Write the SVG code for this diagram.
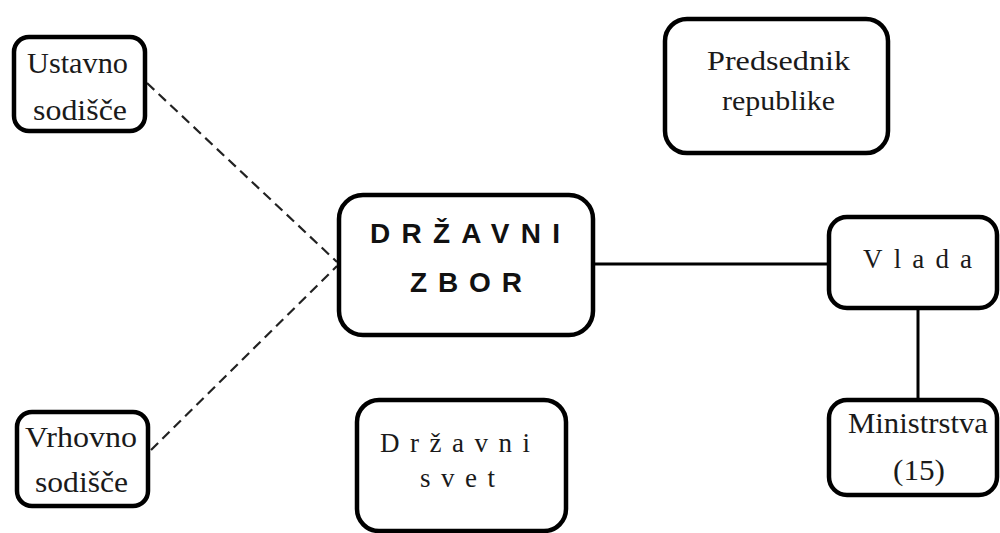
<svg xmlns="http://www.w3.org/2000/svg" width="1000" height="533" viewBox="0 0 1000 533">
  <style>
    .box { fill: #ffffff; stroke: #000000; stroke-width: 4.5; }
    .serif { font-family: "Liberation Serif", "Times New Roman", serif; fill: #1a1a1a; }
    .sans { font-family: "Liberation Sans", Arial, sans-serif; font-weight: bold; fill: #111111; }
    .solid { stroke: #000000; stroke-width: 3; fill: none; }
    .dashed { stroke: #222222; stroke-width: 2.2; stroke-dasharray: 10 6; fill: none; }
  </style>
  <rect width="1000" height="533" fill="#ffffff"/>

  <!-- connectors -->
  <g id="connectors">
    <line class="dashed" x1="147" y1="83" x2="337" y2="262"/>
    <line class="dashed" x1="151" y1="450" x2="337" y2="266"/>
    <line class="solid" x1="595" y1="264" x2="829" y2="264"/>
    <line class="solid" x1="918" y1="308" x2="918" y2="400"/>
  </g>

  <!-- Ustavno sodišče -->
  <g id="ustavno-sodisce">
    <rect class="box" x="14" y="37" width="131" height="94" rx="15"/>
    <text class="serif" x="27" y="73" font-size="29" textLength="101" lengthAdjust="spacingAndGlyphs">Ustavno</text>
    <text class="serif" x="33" y="120" font-size="29" textLength="94" lengthAdjust="spacingAndGlyphs">sodišče</text>
  </g>

  <!-- Vrhovno sodišče -->
  <g id="vrhovno-sodisce">
    <rect class="box" x="17" y="412" width="131" height="94" rx="15"/>
    <text class="serif" x="25" y="447" font-size="29" textLength="112" lengthAdjust="spacingAndGlyphs">Vrhovno</text>
    <text class="serif" x="35" y="492" font-size="29" textLength="93" lengthAdjust="spacingAndGlyphs">sodišče</text>
  </g>

  <!-- Državni zbor -->
  <g id="drzavni-zbor">
    <rect class="box" x="339" y="195" width="254" height="140" rx="24"/>
    <text class="sans" x="370" y="243" font-size="28" textLength="190" lengthAdjust="spacing">DRŽAVNI</text>
    <text class="sans" x="410" y="292" font-size="28" textLength="112" lengthAdjust="spacing">ZBOR</text>
  </g>

  <!-- Državni svet -->
  <g id="drzavni-svet">
    <rect class="box" x="357" y="400" width="209" height="131" rx="22"/>
    <text class="serif" x="380" y="452" font-size="27" textLength="150" lengthAdjust="spacing">Državni</text>
    <text class="serif" x="420" y="487" font-size="27" textLength="75" lengthAdjust="spacing">svet</text>
  </g>

  <!-- Predsednik republike -->
  <g id="predsednik-republike">
    <rect class="box" x="665" y="19" width="223" height="134" rx="22"/>
    <text class="serif" x="707" y="70" font-size="27" textLength="143" lengthAdjust="spacingAndGlyphs">Predsednik</text>
    <text class="serif" x="722" y="110" font-size="27" textLength="113" lengthAdjust="spacingAndGlyphs">republike</text>
  </g>

  <!-- Vlada -->
  <g id="vlada">
    <rect class="box" x="829" y="217" width="168" height="91" rx="18"/>
    <text class="serif" x="863" y="268" font-size="27" textLength="109" lengthAdjust="spacing">Vlada</text>
  </g>

  <!-- Ministrstva (15) -->
  <g id="ministrstva">
    <rect class="box" x="829" y="400" width="168" height="95" rx="18"/>
    <text class="serif" x="848" y="433" font-size="29" textLength="140" lengthAdjust="spacingAndGlyphs">Ministrstva</text>
    <text class="serif" x="893" y="480" font-size="29" textLength="52" lengthAdjust="spacingAndGlyphs">(15)</text>
  </g>
</svg>
